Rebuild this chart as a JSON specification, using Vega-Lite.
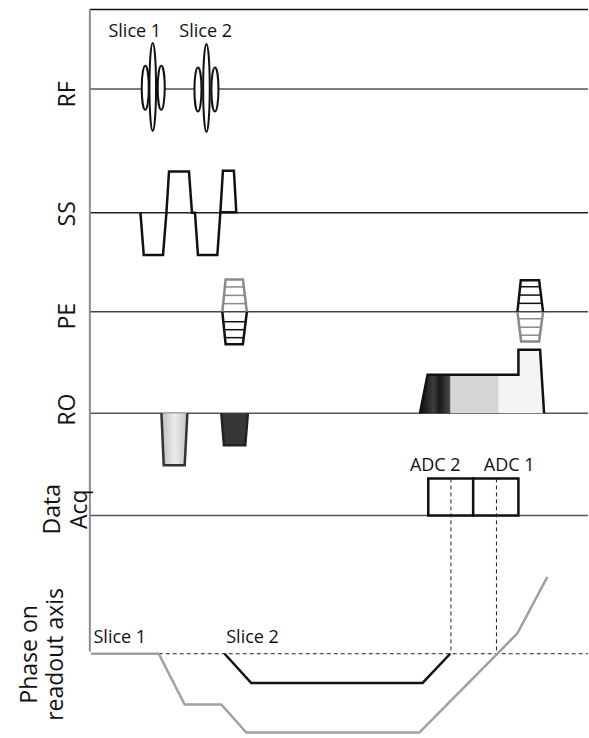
{
  "$schema": "https://vega.github.io/schema/vega-lite/v6.json",
  "width": 589,
  "height": 738,
  "autosize": {"type": "fit", "contains": "padding"},
  "padding": 0,
  "background": "white",
  "config": {"view": {"stroke": null}},
  "resolve": {"scale": {"color": "independent"}},
  "datasets": {
    "hlines": [
      {"row": "top", "x": 90, "x2": 589, "y": 9.5},
      {"row": "RF", "x": 90, "x2": 589, "y": 89.5},
      {"row": "SS", "x": 90, "x2": 589, "y": 213.8},
      {"row": "PE", "x": 90, "x2": 589, "y": 313.5},
      {"row": "RO", "x": 90, "x2": 589, "y": 415.5},
      {"row": "DataAcq", "x": 90, "x2": 589, "y": 518.3}
    ],
    "vaxis": [{"x": 90, "y": 9.5, "y2": 655}],
    "dashH": [{"x": 159, "x2": 589, "y": 657.3}],
    "dashV": [
      {"x": 451.7, "y": 481, "y2": 657.3},
      {"x": 497.3, "y": 481, "y2": 657.3}
    ],
    "fills": [
      {"part": "lobe1", "y": 415.5, "x": 161.7, "x2": 187.7},
      {"part": "lobe1", "y": 467.7, "x": 164, "x2": 185},
      {"part": "lobe2", "y": 415.5, "x": 221.7, "x2": 248.3},
      {"part": "lobe2", "y": 447.7, "x": 224.3, "x2": 245.7},
      {"part": "roDark", "y": 376.7, "x": 428.3, "x2": 451},
      {"part": "roDark", "y": 415.5, "x": 420.7, "x2": 451},
      {"part": "roMid", "y": 376.7, "x": 451, "x2": 499.5},
      {"part": "roMid", "y": 415.5, "x": 451, "x2": 499.5},
      {"part": "roLightTop", "y": 351.7, "x": 519.3, "x2": 541},
      {"part": "roLightTop", "y": 377, "x": 519.3, "x2": 542.6},
      {"part": "roLightBottom", "y": 376.7, "x": 499.5, "x2": 542.6},
      {"part": "roLightBottom", "y": 415.5, "x": 499.5, "x2": 545}
    ],
    "lines": [
      {"series": "ss", "i": 1, "x": 140.7, "y": 214},
      {"series": "ss", "i": 2, "x": 144, "y": 256.5},
      {"series": "ss", "i": 3, "x": 163.3, "y": 256.5},
      {"series": "ss", "i": 4, "x": 166.7, "y": 214},
      {"series": "ss", "i": 5, "x": 169.3, "y": 172.5},
      {"series": "ss", "i": 6, "x": 189.3, "y": 172.5},
      {"series": "ss", "i": 7, "x": 192.3, "y": 214},
      {"series": "ss", "i": 8, "x": 195.3, "y": 214},
      {"series": "ss", "i": 9, "x": 198.3, "y": 256.5},
      {"series": "ss", "i": 10, "x": 217.7, "y": 256.5},
      {"series": "ss", "i": 11, "x": 220.7, "y": 214},
      {"series": "ss", "i": 12, "x": 223.3, "y": 171.7},
      {"series": "ss", "i": 13, "x": 234.3, "y": 171.7},
      {"series": "ss", "i": 14, "x": 236.7, "y": 213.3},
      {"series": "ss", "i": 15, "x": 221.7, "y": 213.3},
      {"series": "roOut", "i": 1, "x": 420.7, "y": 415.5},
      {"series": "roOut", "i": 2, "x": 428.3, "y": 376.7},
      {"series": "roOut", "i": 3, "x": 519.3, "y": 376.7},
      {"series": "roOut", "i": 4, "x": 519.3, "y": 351.7},
      {"series": "roOut", "i": 5, "x": 541, "y": 351.7},
      {"series": "roOut", "i": 6, "x": 545, "y": 415.5},
      {"series": "lobe1Out", "i": 1, "x": 161.7, "y": 415.5},
      {"series": "lobe1Out", "i": 2, "x": 164, "y": 467.7},
      {"series": "lobe1Out", "i": 3, "x": 185, "y": 467.7},
      {"series": "lobe1Out", "i": 4, "x": 187.7, "y": 415.5},
      {"series": "lobe2Out", "i": 1, "x": 221.7, "y": 415.5},
      {"series": "lobe2Out", "i": 2, "x": 224.3, "y": 447.7},
      {"series": "lobe2Out", "i": 3, "x": 245.7, "y": 447.7},
      {"series": "lobe2Out", "i": 4, "x": 248.3, "y": 415.5},
      {"series": "pe1Up", "i": 1, "x": 222.7, "y": 313.5},
      {"series": "pe1Up", "i": 2, "x": 226, "y": 281},
      {"series": "pe1Up", "i": 3, "x": 243.3, "y": 281},
      {"series": "pe1Up", "i": 4, "x": 247.3, "y": 313.5},
      {"series": "pe1Lo", "i": 1, "x": 222.7, "y": 313.5},
      {"series": "pe1Lo", "i": 2, "x": 226, "y": 346},
      {"series": "pe1Lo", "i": 3, "x": 243.3, "y": 346},
      {"series": "pe1Lo", "i": 4, "x": 247.3, "y": 313.5},
      {"series": "pe2Up", "i": 1, "x": 518.3, "y": 313.5},
      {"series": "pe2Up", "i": 2, "x": 521.7, "y": 281.7},
      {"series": "pe2Up", "i": 3, "x": 540, "y": 281.7},
      {"series": "pe2Up", "i": 4, "x": 544, "y": 313.5},
      {"series": "pe2Lo", "i": 1, "x": 518.3, "y": 313.5},
      {"series": "pe2Lo", "i": 2, "x": 522, "y": 343.3},
      {"series": "pe2Lo", "i": 3, "x": 540, "y": 343.3},
      {"series": "pe2Lo", "i": 4, "x": 544, "y": 313.5},
      {"series": "ph1", "i": 1, "x": 91, "y": 657.3},
      {"series": "ph1", "i": 2, "x": 159, "y": 657.3},
      {"series": "ph1", "i": 3, "x": 185, "y": 708.3},
      {"series": "ph1", "i": 4, "x": 221.7, "y": 708.3},
      {"series": "ph1", "i": 5, "x": 246.7, "y": 736.5},
      {"series": "ph1", "i": 6, "x": 420, "y": 736.5},
      {"series": "ph1", "i": 7, "x": 498.3, "y": 657.3},
      {"series": "ph1", "i": 8, "x": 518.3, "y": 636.7},
      {"series": "ph1", "i": 9, "x": 548.3, "y": 580},
      {"series": "ph2", "i": 1, "x": 225, "y": 657.3},
      {"series": "ph2", "i": 2, "x": 251.7, "y": 686.7},
      {"series": "ph2", "i": 3, "x": 423.3, "y": 686.7},
      {"series": "ph2", "i": 4, "x": 451, "y": 657.3}
    ],
    "rungs": [
      {"tone": "grey", "x": 225.2, "x2": 245.5, "y": 288.5},
      {"tone": "grey", "x": 224.4, "x2": 246.5, "y": 297},
      {"tone": "grey", "x": 223.5, "x2": 247.3, "y": 305.3},
      {"tone": "black", "x": 223.7, "x2": 247.2, "y": 323.5},
      {"tone": "black", "x": 224.5, "x2": 246.3, "y": 331.5},
      {"tone": "black", "x": 225.3, "x2": 245.3, "y": 339.5},
      {"tone": "black", "x": 521, "x2": 540.8, "y": 288.3},
      {"tone": "black", "x": 520.1, "x2": 541.9, "y": 296.7},
      {"tone": "black", "x": 519.2, "x2": 543, "y": 305},
      {"tone": "grey", "x": 519.2, "x2": 543, "y": 320.5},
      {"tone": "grey", "x": 520.3, "x2": 541.9, "y": 329},
      {"tone": "grey", "x": 521.2, "x2": 540.8, "y": 337}
    ],
    "adc": [
      {"adc": "ADC 2", "x": 429, "x2": 474, "y": 481, "y2": 518.3},
      {"adc": "ADC 1", "x": 474, "x2": 519.3, "y": 481, "y2": 518.3}
    ],
    "rf": [
      {"lobe": "main", "x": 153, "y": 87.5},
      {"lobe": "main", "x": 206.8, "y": 88.5},
      {"lobe": "side", "x": 145.5, "y": 88.3},
      {"lobe": "side", "x": 161.5, "y": 88.3},
      {"lobe": "side", "x": 198.3, "y": 90},
      {"lobe": "side", "x": 215.3, "y": 90}
    ],
    "rowLabels": [
      {"text": "RF", "x": 68, "y": 95},
      {"text": "SS", "x": 68, "y": 215},
      {"text": "PE", "x": 68, "y": 318},
      {"text": "RO", "x": 68, "y": 412},
      {"text": "Data", "x": 53, "y": 512},
      {"text": "Acq", "x": 80, "y": 512},
      {"text": "Phase on", "x": 30, "y": 658},
      {"text": "readout axis", "x": 56, "y": 658}
    ],
    "notes": [
      {"text": "Slice 1", "x": 135, "y": 37},
      {"text": "Slice 2", "x": 206, "y": 37},
      {"text": "ADC 2", "x": 436, "y": 474},
      {"text": "ADC 1", "x": 510, "y": 474},
      {"text": "Slice 1", "x": 120, "y": 647},
      {"text": "Slice 2", "x": 253, "y": 647}
    ]
  },
  "encoding": {
    "x": {"field": "x", "type": "quantitative", "scale": {"domain": [0, 589], "nice": false, "zero": false}, "axis": null},
    "y": {"field": "y", "type": "quantitative", "scale": {"domain": [0, 738], "reverse": true, "nice": false, "zero": false}, "axis": null}
  },
  "layer": [
    {
      "data": {"name": "hlines"},
      "mark": {"type": "rule", "strokeWidth": 1.5},
      "encoding": {
        "x2": {"field": "x2"},
        "color": {"field": "row", "type": "nominal", "scale": {"domain": ["top", "RF", "SS", "PE", "RO", "DataAcq"], "range": ["#111111", "#555555", "#222222", "#444444", "#555555", "#555555"]}, "legend": null}
      }
    },
    {
      "data": {"name": "vaxis"},
      "mark": {"type": "rule", "strokeWidth": 2, "color": "#8c8c8c"},
      "encoding": {"y2": {"field": "y2"}}
    },
    {
      "data": {"name": "fills"},
      "transform": [{"filter": "datum.part !== 'roDark' && datum.part !== 'lobe1'"}],
      "mark": {"type": "area", "orient": "horizontal", "opacity": 1},
      "encoding": {
        "x2": {"field": "x2"},
        "detail": {"field": "part"},
        "color": {"field": "part", "type": "nominal", "scale": {"domain": ["lobe2", "roMid", "roLightTop", "roLightBottom"], "range": ["#363636", "#d6d6d6", "#f4f4f4", "#f4f4f4"]}, "legend": null}
      }
    },
    {
      "data": {"name": "fills"},
      "transform": [{"filter": "datum.part === 'roDark'"}],
      "mark": {"type": "area", "orient": "horizontal", "opacity": 1, "color": {"gradient": "linear", "x1": 0, "x2": 1, "y1": 0, "y2": 0, "stops": [{"offset": 0, "color": "#0e0e0e"}, {"offset": 0.45, "color": "#3c3c3c"}, {"offset": 0.65, "color": "#1a1a1a"}, {"offset": 1, "color": "#4a4a4a"}]}},
      "encoding": {"x2": {"field": "x2"}}
    },
    {
      "data": {"name": "fills"},
      "transform": [{"filter": "datum.part === 'lobe1'"}],
      "mark": {"type": "area", "orient": "horizontal", "opacity": 1, "color": {"gradient": "linear", "x1": 0, "x2": 1, "y1": 0, "y2": 0, "stops": [{"offset": 0, "color": "#bdbdbd"}, {"offset": 0.5, "color": "#ececec"}, {"offset": 1, "color": "#c4c4c4"}]}},
      "encoding": {"x2": {"field": "x2"}}
    },
    {
      "data": {"name": "adc"},
      "mark": {"type": "rect", "fill": "white", "stroke": "#111111", "strokeWidth": 2.5},
      "encoding": {"x2": {"field": "x2"}, "y2": {"field": "y2"}}
    },
    {
      "data": {"name": "dashH"},
      "mark": {"type": "rule", "strokeWidth": 1, "color": "#222222", "strokeDash": [4, 3]},
      "encoding": {"x2": {"field": "x2"}}
    },
    {
      "data": {"name": "dashV"},
      "mark": {"type": "rule", "strokeWidth": 1, "color": "#222222", "strokeDash": [4, 3]},
      "encoding": {"y2": {"field": "y2"}}
    },
    {
      "data": {"name": "rungs"},
      "mark": {"type": "rule", "strokeWidth": 1.5},
      "encoding": {
        "x2": {"field": "x2"},
        "color": {"field": "tone", "type": "nominal", "scale": {"domain": ["grey", "black"], "range": ["#8a8a8a", "#111111"]}, "legend": null}
      }
    },
    {
      "data": {"name": "lines"},
      "mark": {"type": "line", "strokeWidth": 2.5, "strokeJoin": "miter"},
      "encoding": {
        "order": {"field": "i", "type": "quantitative"},
        "detail": {"field": "series"},
        "color": {"field": "series", "type": "nominal", "scale": {"domain": ["ss", "roOut", "lobe1Out", "lobe2Out", "pe1Up", "pe1Lo", "pe2Up", "pe2Lo", "ph1", "ph2"], "range": ["#111111", "#111111", "#333333", "#222222", "#8a8a8a", "#111111", "#111111", "#8a8a8a", "#a0a0a0", "#111111"]}, "legend": null}
      }
    },
    {
      "data": {"name": "rf"},
      "transform": [{"filter": "datum.lobe === 'main'"}],
      "mark": {"type": "point", "filled": true, "fill": "white", "stroke": "#111111", "strokeWidth": 2, "opacity": 1, "size": 7744, "shape": "M0,-1C0.0414,-1,0.075,-0.5523,0.075,0C0.075,0.5523,0.0414,1,0,1C-0.0414,1,-0.075,0.5523,-0.075,0C-0.075,-0.5523,-0.0414,-1,0,-1Z"}
    },
    {
      "data": {"name": "rf"},
      "transform": [{"filter": "datum.lobe === 'side'"}],
      "mark": {"type": "point", "filled": true, "fill": "white", "stroke": "#111111", "strokeWidth": 2, "opacity": 1, "size": 1936, "shape": "M0,-1C0.0884,-1,0.16,-0.5523,0.16,0C0.16,0.5523,0.0884,1,0,1C-0.0884,1,-0.16,0.5523,-0.16,0C-0.16,-0.5523,-0.0884,-1,0,-1Z"}
    },
    {
      "data": {"name": "rowLabels"},
      "mark": {"type": "text", "angle": 270, "align": "center", "baseline": "middle", "font": "Open Sans", "fontSize": 23, "color": "#111111"},
      "encoding": {"text": {"field": "text"}}
    },
    {
      "data": {"name": "notes"},
      "mark": {"type": "text", "align": "center", "baseline": "alphabetic", "font": "Open Sans", "fontSize": 18, "color": "#111111"},
      "encoding": {"text": {"field": "text"}}
    }
  ]
}
